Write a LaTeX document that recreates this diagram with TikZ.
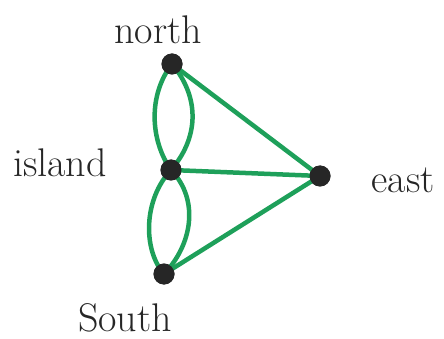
\documentclass[tikz,border=0pt]{standalone}
\begin{document}
\begin{tikzpicture}[x=1pt,y=-1pt,
  vert/.style={circle,fill=black!85,minimum size=21pt,inner sep=0pt},
  bridge/.style={draw={rgb,255:red,30;green,160;blue,90},line width=4.5pt},
  lab/.style={text={black!85},font=\fontsize{40}{46}\selectfont,inner sep=0pt}]
\useasboundingbox (0,0) rectangle (444,339);
\node[vert] (n) at (172,64) {};
\node[vert] (i) at (171,170) {};
\node[vert] (e) at (320,176) {};
\node[vert] (s) at (164,274) {};
\draw[bridge] (n.center) .. controls (148,95) and (150,140) .. (i.center);
\draw[bridge] (n.center) .. controls (202,100) and (197,140) .. (i.center);
\draw[bridge] (i.center) .. controls (143,200) and (143,250) .. (s.center);
\draw[bridge] (i.center) .. controls (200,200) and (192,245) .. (s.center);
\draw[bridge] (n.center) -- (e.center);
\draw[bridge] (i.center) -- (e.center);
\draw[bridge] (s.center) -- (e.center);
\node[vert] at (n) {};
\node[vert] at (i) {};
\node[vert] at (e) {};
\node[vert] at (s) {};
\node[lab] (ln) at (158,30) {north};
\node[lab] (li) at (60,163) {island};
\node[lab] (le) at (403,180) {east};
\node[lab] (ls) at (125,318) {South};
\end{tikzpicture}
\end{document}
